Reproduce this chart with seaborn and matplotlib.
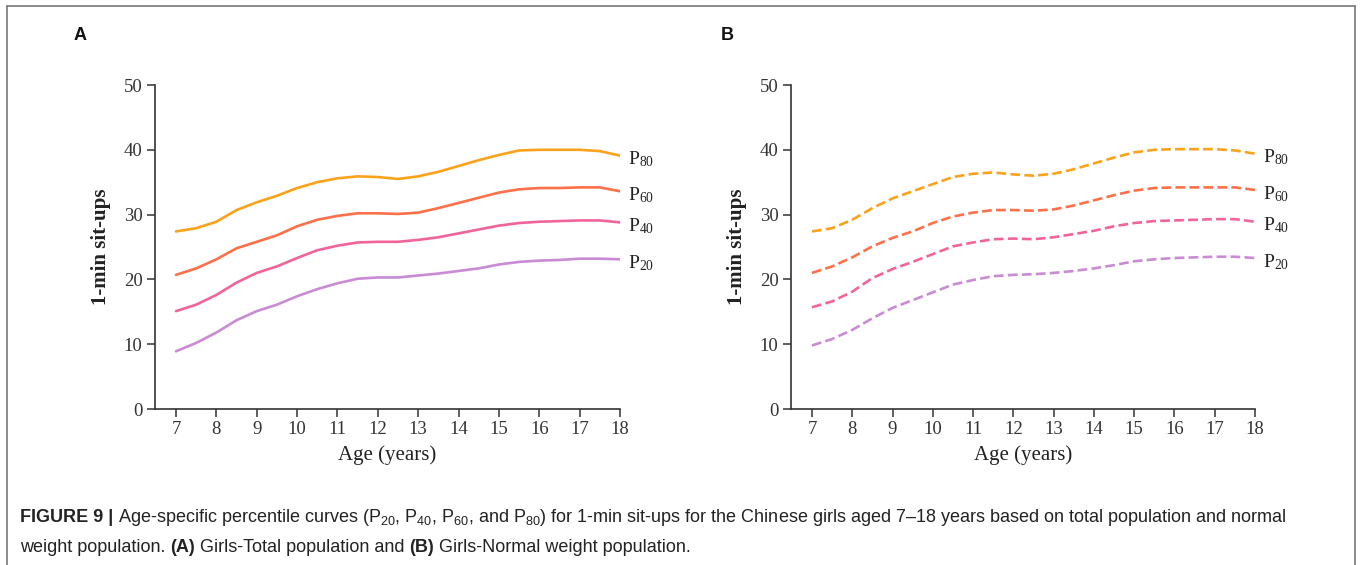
import numpy as np
import pandas as pd
import seaborn as sns
import matplotlib
matplotlib.use("Agg")
import matplotlib.pyplot as plt
from matplotlib.lines import Line2D

# ---------------- data ----------------
ages = [7, 7.5, 8, 8.5, 9, 9.5, 10, 10.5, 11, 11.5, 12, 12.5, 13, 13.5,
        14, 14.5, 15, 15.5, 16, 16.5, 17, 17.5, 18]

# Panel A: Girls - Total population
a_p80 = [27.4, 27.9, 28.9, 30.7, 31.9, 32.9, 34.1, 35.0, 35.6, 35.9, 35.8, 35.5, 35.9, 36.6,
         37.5, 38.4, 39.2, 39.9, 40.0, 40.0, 40.0, 39.8, 39.1]
a_p60 = [20.7, 21.7, 23.1, 24.8, 25.8, 26.8, 28.2, 29.2, 29.8, 30.2, 30.2, 30.1, 30.3, 31.0,
         31.8, 32.6, 33.4, 33.9, 34.1, 34.1, 34.2, 34.2, 33.6]
a_p40 = [15.1, 16.1, 17.6, 19.5, 21.0, 22.0, 23.3, 24.5, 25.2, 25.7, 25.8, 25.8, 26.1, 26.5,
         27.1, 27.7, 28.3, 28.7, 28.9, 29.0, 29.1, 29.1, 28.8]
a_p20 = [8.9, 10.2, 11.8, 13.7, 15.1, 16.1, 17.4, 18.5, 19.4, 20.1, 20.3, 20.3, 20.6, 20.9,
         21.3, 21.7, 22.3, 22.7, 22.9, 23.0, 23.2, 23.2, 23.1]

# Panel B: Girls - Normal weight population
b_p80 = [27.4, 27.9, 29.2, 31.0, 32.5, 33.6, 34.7, 35.8, 36.3, 36.5, 36.2, 36.0, 36.3, 37.0,
         37.9, 38.8, 39.6, 40.0, 40.1, 40.1, 40.1, 39.9, 39.4]
b_p60 = [21.0, 22.0, 23.4, 25.1, 26.4, 27.4, 28.7, 29.7, 30.3, 30.7, 30.7, 30.6, 30.8, 31.4,
         32.2, 33.0, 33.7, 34.1, 34.2, 34.2, 34.2, 34.2, 33.8]
b_p40 = [15.7, 16.6, 18.1, 20.2, 21.6, 22.7, 23.9, 25.1, 25.7, 26.2, 26.3, 26.2, 26.5, 27.0,
         27.5, 28.2, 28.7, 29.0, 29.1, 29.2, 29.3, 29.3, 28.9]
b_p20 = [9.8, 10.8, 12.2, 14.0, 15.6, 16.8, 18.0, 19.2, 19.9, 20.5, 20.7, 20.8, 21.0, 21.3,
         21.7, 22.2, 22.8, 23.1, 23.3, 23.4, 23.5, 23.5, 23.3]

percentiles = ["80", "60", "40", "20"]
x_ticks = list(range(7, 19))
y_ticks = [0, 10, 20, 30, 40, 50]
colors = {"80": "#FBA21B", "60": "#FD7049", "40": "#F0649B", "20": "#C98BD3"}

panel_a = {"80": a_p80, "60": a_p60, "40": a_p40, "20": a_p20}
panel_b = {"80": b_p80, "60": b_p60, "40": b_p40, "20": b_p20}

# ---------------- style ----------------
sns.set_theme(style="ticks")
plt.rcParams["font.family"] = ["Liberation Serif", "DejaVu Serif"]
plt.rcParams["mathtext.fontset"] = "custom"
plt.rcParams["mathtext.rm"] = "Liberation Serif"

W, H = 1362, 565
fig = plt.figure(figsize=(W / 100, H / 100), dpi=100)
fig.patch.set_facecolor("white")

def fx(px):
    return px / W

def fy(py):
    return 1 - py / H

def make_axes(left_px, right_px, top_px, bottom_px):
    return fig.add_axes([fx(left_px), fy(bottom_px), (right_px - left_px) / W,
                         (bottom_px - top_px) / H])

axA = make_axes(155, 620, 85, 409)
axB = make_axes(791, 1255, 85, 409)

def draw_panel(ax, data, dashed):
    for p in percentiles:
        df = pd.DataFrame({"age": ages, "val": data[p]})
        kw = dict(dashes=(2.8, 1.4)) if dashed else {}
        line = sns.lineplot(data=df, x="age", y="val", ax=ax, color=colors[p], lw=1.9,
                            linestyle="--" if dashed else "-", **kw)
        ax.text(18.2, data[p][-1] - 0.6, r"$\mathregular{P_{%s}}$" % p, fontsize=14,
                ha="left", va="center", color="#222222", clip_on=False)
    for ln in ax.get_lines():
        ln.set_solid_joinstyle("round")
        ln.set_dash_joinstyle("round")
    ax.set_xlim(6.48, 18)
    ax.set_ylim(0, 50)
    ax.set_xticks(x_ticks)
    ax.set_yticks(y_ticks)
    ax.tick_params(axis="both", labelsize=13.5, colors="#333333", length=6, width=1.1,
                   direction="out", pad=3)
    for lab in ax.get_xticklabels() + ax.get_yticklabels():
        lab.set_color("#333333")
    for s in ["top", "right"]:
        ax.spines[s].set_visible(False)
    for s in ["left", "bottom"]:
        ax.spines[s].set_color("#333333")
        ax.spines[s].set_linewidth(1.2)
    ax.set_xlabel("Age (years)", fontsize=15, color="#222222", labelpad=5)
    ax.set_ylabel("1-min sit-ups", fontsize=15, fontweight="bold", color="#222222",
                  labelpad=9)
    ax.set_facecolor("white")

draw_panel(axA, panel_a, dashed=False)
draw_panel(axB, panel_b, dashed=True)

# panel letters
sans = ["Liberation Sans", "DejaVu Sans"]
fig.text(fx(74), fy(35), "A", fontsize=13, fontweight="bold", family=sans,
         ha="left", va="center", color="#111111")
fig.text(fx(721), fy(35), "B", fontsize=13, fontweight="bold", family=sans,
         ha="left", va="center", color="#111111")

# figure frame (left, top, right)
frame_kw = dict(color="#777777", lw=1.2, transform=fig.transFigure)
fig.add_artist(Line2D([fx(7), fx(1355)], [fy(6), fy(6)], **frame_kw))
fig.add_artist(Line2D([fx(7), fx(7)], [fy(6), 0], **frame_kw))
fig.add_artist(Line2D([fx(1355), fx(1355)], [fy(6), 0], **frame_kw))

# caption built from runs
plt.rcParams["mathtext.rm"] = "Liberation Sans"
fig.canvas.draw()
renderer = fig.canvas.get_renderer()

def runs(x_px, y_px, pieces, size=13.0):
    x = x_px
    for txt, bold in pieces:
        t = fig.text(fx(x), fy(y_px), txt, fontsize=size, family=sans,
                     fontweight="bold" if bold else "normal", color="#222222",
                     ha="left", va="baseline")
        bb = t.get_window_extent(renderer=renderer)
        x += bb.width

line1 = [("FIGURE 9 | ", True),
         (r"Age-specific percentile curves ($\mathregular{P_{20}}$, $\mathregular{P_{40}}$, "
          r"$\mathregular{P_{60}}$, and $\mathregular{P_{80}}$) for 1-min sit-ups for the Chinese "
          "girls aged 7\u201318 years based on total population and normal", False)]
line2 = [("weight population. ", False), ("(A)", True), (" Girls-Total population and ", False),
         ("(B)", True), (" Girls-Normal weight population.", False)]
runs(20, 522, line1)
runs(20, 552, line2)

fig.savefig("out.png", dpi=100, facecolor="white")
